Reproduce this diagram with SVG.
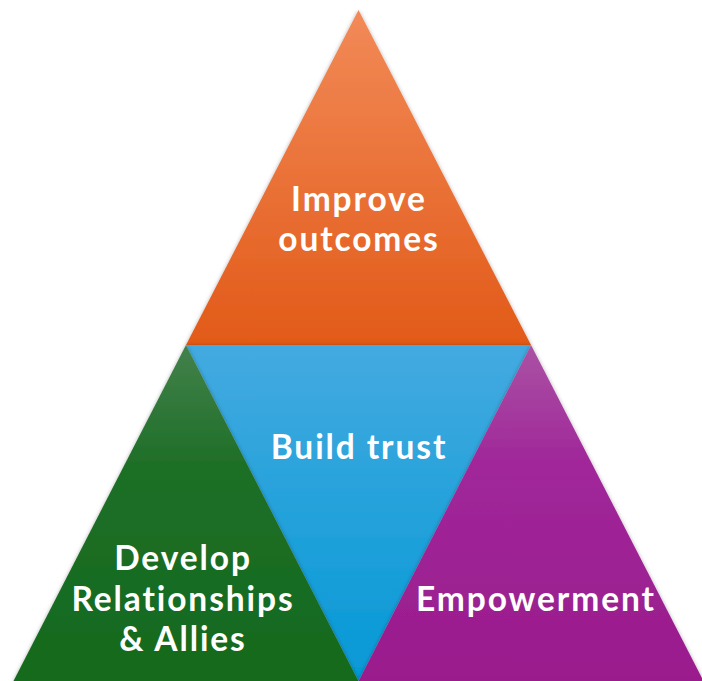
<svg xmlns="http://www.w3.org/2000/svg" width="702" height="681" viewBox="0 0 702 681">
  <defs>
    <linearGradient id="gOrange" x1="0" y1="0" x2="0" y2="1">
      <stop offset="0" stop-color="#F28A58"/>
      <stop offset="1" stop-color="#E25A18"/>
    </linearGradient>
    <linearGradient id="gBlue" x1="0" y1="0" x2="0" y2="1">
      <stop offset="0" stop-color="#44AAE0"/>
      <stop offset="1" stop-color="#0499D6"/>
    </linearGradient>
    <linearGradient id="gGreen" x1="0" y1="0" x2="0" y2="1">
      <stop offset="0" stop-color="#43814C"/>
      <stop offset="0.35" stop-color="#1F6F28"/>
      <stop offset="1" stop-color="#136A1D"/>
    </linearGradient>
    <linearGradient id="gPurple" x1="0" y1="0" x2="0" y2="1">
      <stop offset="0" stop-color="#AA52A4"/>
      <stop offset="0.35" stop-color="#A0279A"/>
      <stop offset="1" stop-color="#9A1C8C"/>
    </linearGradient>
    <filter id="shadow" x="-10%" y="-10%" width="120%" height="120%">
      <feDropShadow dx="0" dy="1" stdDeviation="2" flood-color="#000" flood-opacity="0.35"/>
    </filter>
  </defs>
  <style>
    .lbl { font-family: Lato, "Open Sans", "Liberation Sans", sans-serif; font-weight: 700; fill: #FFFFFF; text-anchor: middle; font-size: 33.5px; letter-spacing: 1.9px; }
  </style>
  <rect width="702" height="681" fill="#FFFFFF"/>

  <g id="improve-outcomes">
    <polygon points="358.5,10 531,345 186,345" fill="url(#gOrange)" filter="url(#shadow)"/>
    <text class="lbl" x="359" y="211">Improve</text>
    <text class="lbl" x="359" y="251">outcomes</text>
  </g>

  <g id="build-trust">
    <polygon points="186,345 531,345 358.5,681" fill="url(#gBlue)" filter="url(#shadow)"/>
    <text class="lbl" x="359" y="459">Build trust</text>
  </g>

  <g id="develop-relationships">
    <polygon points="186,345 358.5,681 13.5,681" fill="url(#gGreen)" filter="url(#shadow)"/>
    <text class="lbl" x="183" y="570">Develop</text>
    <text class="lbl" x="183" y="611">Relationships</text>
    <text class="lbl" x="183" y="651">&amp; Allies</text>
  </g>

  <g id="empowerment">
    <polygon points="531,345 703.5,681 358.5,681" fill="url(#gPurple)" filter="url(#shadow)"/>
    <text class="lbl" x="536" y="611">Empowerment</text>
  </g>

  <g id="connectors"/>
</svg>
